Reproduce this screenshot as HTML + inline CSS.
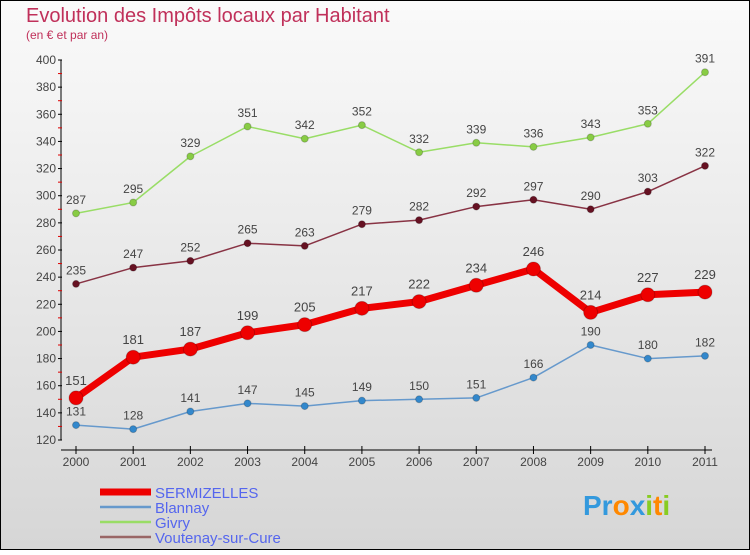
<!DOCTYPE html>
<html><head><meta charset="utf-8"><style>
body{margin:0;width:750px;height:550px;overflow:hidden;font-family:"Liberation Sans",sans-serif}
</style></head><body>
<svg width="750" height="550" xmlns="http://www.w3.org/2000/svg">
<defs><linearGradient id="bg" x1="0" y1="0" x2="0" y2="1"><stop offset="0" stop-color="#fafafa"/><stop offset="1" stop-color="#d6d6d6"/></linearGradient></defs>
<rect x="0.5" y="0.5" width="749" height="549" fill="url(#bg)" stroke="#000"/>
<text x="26" y="22" font-size="20" fill="#c0305a">Evolution des Impôts locaux par Habitant</text>
<text x="26" y="39" font-size="12" fill="#c0305a">(en € et par an)</text>
<g id="axes"></g>
<g id="series"></g>
<g id="legend"></g>
<text x="583" y="515" font-size="28" font-weight="bold"><tspan fill="#3399dd">Pr</tspan><tspan fill="#ff8800">o</tspan><tspan fill="#3399dd">x</tspan><tspan fill="#88cc22">i</tspan><tspan fill="#ff8800">t</tspan><tspan fill="#88cc22">i</tspan></text>
</svg>
<script>
const years=[2000,2001,2002,2003,2004,2005,2006,2007,2008,2009,2010,2011];
const yTicks=[120,140,160,180,200,220,240,260,280,300,320,340,360,380,400];
const sermizelles=[151,181,187,199,205,217,222,234,246,214,227,229];
const blannay=[131,128,141,147,145,149,150,151,166,190,180,182];
const givry=[287,295,329,351,342,352,332,339,336,343,353,391];
const voutenay=[235,247,252,265,263,279,282,292,297,290,303,322];
const NS="http://www.w3.org/2000/svg";
const X=i=>76+i*(705-76)/11;
const Y=v=>440-(v-120)*(380/280);
function mk(t,a,p){const e=document.createElementNS(NS,t);for(const k in a)e.setAttribute(k,a[k]);p.appendChild(e);return e;}
const ax=document.getElementById('axes');
let l=mk('line',{x1:61,y1:60,x2:61,y2:440,stroke:'#000'},ax);


l=mk('line',{x1:61,y1:450,x2:712,y2:450,stroke:'#000'},ax);


yTicks.forEach(v=>{
 mk('line',{x1:58,y1:Y(v),x2:62,y2:Y(v),stroke:'#000'},ax);
 if(v<400)mk('line',{x1:58,y1:Y(v+10),x2:62,y2:Y(v+10),stroke:'#d00'},ax);
 const t=mk('text',{x:56,y:Y(v)+4,'font-size':12,'text-anchor':'end',fill:'#444'},ax);t.textContent=v;
 
 
});
years.forEach((y,i)=>{
 mk('line',{x1:X(i),y1:446,x2:X(i),y2:454,stroke:'#000'},ax);
 const t=mk('text',{x:X(i),y:466,'font-size':12,'text-anchor':'middle',fill:'#444'},ax);t.textContent=y;
 
 
});
const sg=document.getElementById('series');
function series(name,data,color,w,r,dot,fs){
 const g=mk('g',{},sg);
 
 
 mk('polyline',{points:data.map((v,i)=>X(i)+','+Y(v)).join(' '),fill:'none',stroke:color,'stroke-width':w,'stroke-linejoin':'round'},g);
 data.forEach((v,i)=>{
  const c=mk('circle',{cx:X(i),cy:Y(v),r:r,fill:dot,stroke:'rgba(0,0,0,0.2)'},g);
  
  
  const t=mk('text',{x:X(i),y:Y(v)-(r+6),'font-size':fs,'text-anchor':'middle',fill:'#444'},g);t.textContent=v;
  
  
 });
}
series('givry',givry,'#99dd66',1.5,3.5,'#88cc44',12);
series('voutenay',voutenay,'#883344',1.5,3.5,'#661122',12);
series('blannay',blannay,'#6699cc',1.5,3.5,'#3388cc',12);
series('sermizelles',sermizelles,'#ee0000',7,7,'#ee0000',13);
const lg=document.getElementById('legend');
[['SERMIZELLES','#ee0000',7],['Blannay','#6699cc',2.5],['Givry','#99dd66',2.5],['Voutenay-sur-Cure','#996666',2.5]].forEach((d,i)=>{
 const y=492+i*15;
 const g=mk('g',{},lg);
 
 
 mk('line',{x1:100,y1:y,x2:151,y2:y,stroke:d[1],'stroke-width':d[2]},g);
 const t=mk('text',{x:155,y:y+6,'font-size':15,fill:'#5566ee'},g);t.textContent=d[0];
});
</script>
</body></html>
